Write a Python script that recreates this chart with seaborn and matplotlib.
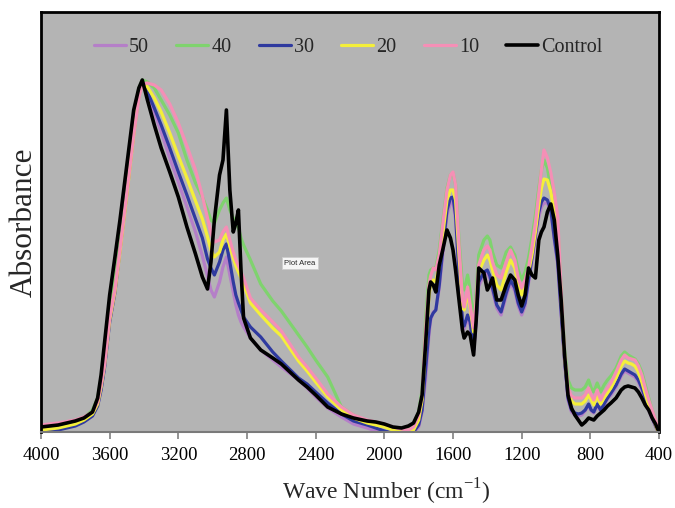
import matplotlib
matplotlib.use("Agg")
import matplotlib.pyplot as plt
import seaborn as sns
import pandas as pd

# Wavenumbers (cm^-1)
wavenumber = [4000, 3900, 3800, 3750, 3700, 3670, 3650, 3630, 3600, 3570,
              3540, 3500, 3460, 3430, 3410, 3380, 3340, 3300, 3250, 3200,
              3150, 3100, 3060, 3030, 3010, 2990, 2960, 2940, 2920, 2900,
              2880, 2865, 2850, 2835, 2820, 2780, 2720, 2650, 2600, 2500,
              2450, 2400, 2330, 2250, 2180, 2100, 2050, 2000, 1950, 1900,
              1860, 1830, 1800, 1780, 1760, 1740, 1730, 1715, 1700, 1680,
              1660, 1635, 1615, 1600, 1585, 1565, 1545, 1535, 1515, 1500,
              1480, 1465, 1450, 1420, 1400, 1385, 1370, 1345, 1320, 1290,
              1265, 1240, 1220, 1200, 1180, 1160, 1140, 1120, 1100, 1085,
              1070, 1050, 1030, 1010, 990, 970, 950, 930, 910, 890,
              870, 850, 830, 810, 795, 780, 760, 740, 720, 700,
              680, 650, 620, 600, 580, 560, 540, 520, 500, 480,
              460, 440, 420, 400]

# Absorbance (arbitrary units) for each sample
abs_50 = [1, 3, 7, 11, 17, 27, 43, 66, 111, 139,
          182, 240, 301, 339, 350, 339, 320, 300, 274, 250,
          225, 200, 176, 156, 142, 135, 150, 165, 175, 157,
          140, 127, 117, 110, 105, 94, 82, 72, 65, 52,
          44, 35, 24, 15, 8, 4, 1, -1, -2, -2,
          -2, -1, 5, 20, 52, 97, 112, 120, 122, 144,
          177, 217, 229, 230, 212, 154, 109, 103, 114, 107,
          80, 109, 146, 157, 159, 153, 141, 124, 117, 136,
          149, 141, 126, 117, 126, 149, 170, 192, 215, 225,
          229, 229, 220, 192, 167, 117, 70, 32, 20, 17,
          16, 17, 21, 27, 21, 19, 27, 21, 27, 33,
          37, 45, 56, 61, 59, 57, 55, 50, 42, 32,
          22, 13, 5, -2]

abs_40 = [4, 6, 10, 14, 22, 34, 54, 82, 130, 160,
          202, 255, 315, 344, 352, 350, 344, 332, 317, 299,
          272, 249, 235, 222, 212, 209, 222, 229, 234, 222,
          214, 210, 204, 194, 187, 172, 148, 131, 121, 97,
          85, 72, 55, 25, 17, 11, 8, 6, 4, 4,
          4, 7, 20, 42, 112, 157, 162, 164, 164, 182,
          210, 244, 257, 259, 247, 192, 147, 142, 157, 142,
          110, 140, 177, 192, 196, 192, 180, 167, 164, 180,
          185, 177, 162, 152, 160, 174, 194, 217, 244, 262,
          272, 264, 244, 224, 207, 142, 82, 52, 44, 42,
          42, 42, 45, 52, 44, 40, 49, 40, 47, 52,
          56, 64, 76, 80, 77, 75, 73, 68, 60, 47,
          34, 22, 12, 0]

abs_30 = [0, 2, 6, 10, 16, 26, 42, 64, 110, 139,
          182, 239, 299, 337, 350, 340, 324, 307, 284, 260,
          237, 213, 194, 173, 164, 157, 170, 182, 188, 170,
          150, 137, 129, 122, 115, 105, 95, 80, 71, 54,
          48, 40, 29, 18, 11, 7, 4, 1, -1, -2,
          -2, 0, 7, 22, 62, 102, 114, 119, 122, 147,
          182, 222, 234, 235, 217, 157, 112, 106, 117, 110,
          82, 112, 150, 160, 162, 156, 144, 127, 120, 139,
          152, 144, 129, 120, 129, 152, 174, 197, 220, 230,
          234, 232, 222, 194, 170, 120, 72, 34, 22, 19,
          18, 19, 22, 28, 22, 20, 28, 22, 28, 34,
          39, 47, 58, 63, 61, 59, 57, 52, 44, 34,
          24, 15, 6, -1]

abs_20 = [2, 4, 8, 12, 18, 28, 45, 67, 112, 140,
          180, 237, 297, 337, 349, 345, 334, 320, 299, 276,
          254, 231, 213, 195, 182, 175, 180, 192, 198, 186,
          174, 166, 160, 154, 148, 129, 117, 104, 96, 71,
          61, 50, 35, 22, 14, 9, 7, 5, 2, 0,
          0, 2, 12, 32, 87, 136, 148, 152, 150, 167,
          197, 232, 242, 242, 232, 177, 127, 122, 139, 124,
          100, 127, 160, 172, 177, 172, 162, 147, 142, 160,
          172, 164, 147, 137, 145, 160, 177, 200, 227, 244,
          253, 252, 240, 220, 197, 134, 75, 42, 31, 28,
          28, 28, 31, 37, 32, 27, 36, 28, 34, 39,
          44, 54, 66, 71, 69, 68, 66, 60, 50, 38,
          27, 17, 7, -2]

abs_10 = [7, 9, 12, 15, 20, 30, 47, 67, 114, 142,
          182, 239, 297, 334, 348, 349, 347, 342, 328, 309,
          286, 262, 236, 214, 199, 190, 192, 200, 205, 192,
          180, 172, 166, 160, 154, 134, 122, 110, 101, 75,
          65, 54, 38, 25, 17, 12, 10, 8, 5, 3,
          2, 5, 17, 37, 102, 147, 156, 164, 162, 177,
          207, 242, 257, 260, 247, 187, 132, 125, 145, 127,
          104, 132, 167, 182, 186, 182, 170, 157, 154, 170,
          182, 172, 154, 144, 152, 164, 185, 209, 239, 262,
          282, 274, 259, 239, 215, 142, 77, 44, 36, 34,
          34, 34, 37, 44, 37, 32, 42, 32, 39, 44,
          49, 60, 72, 77, 74, 73, 72, 66, 57, 44,
          32, 22, 12, 0]

abs_control = [5, 7, 11, 14, 20, 34, 57, 89, 137, 174,
               212, 267, 322, 344, 352, 332, 307, 284, 260, 235,
               205, 178, 155, 143, 170, 212, 257, 272, 322, 242,
               200, 209, 222, 162, 114, 94, 82, 74, 68, 52,
               45, 37, 25, 18, 14, 11, 10, 8, 5, 4,
               6, 9, 20, 37, 87, 142, 150, 147, 140, 167,
               182, 202, 194, 182, 162, 132, 102, 94, 100, 97,
               77, 112, 164, 159, 142, 147, 154, 132, 132, 147,
               157, 152, 137, 126, 137, 164, 157, 154, 192, 200,
               205, 220, 228, 212, 177, 132, 77, 37, 24, 17,
               12, 7, 10, 14, 13, 12, 16, 19, 22, 26,
               29, 34, 42, 45, 46, 45, 44, 40, 34, 27,
               22, 14, 8, 0]

series_names = ["50", "40", "30", "20", "10", "Control"]
series_values = [abs_50, abs_40, abs_30, abs_20, abs_10, abs_control]
series_colors = ["#b57fc8", "#7fd36e", "#2f3a9f", "#f4ef3a", "#f58fb6", "#000000"]
x_ticks = [4000, 3600, 3200, 2800, 2400, 2000, 1600, 1200, 800, 400]

rows = []
for name, vals in zip(series_names, series_values):
    for w, a in zip(wavenumber, vals):
        rows.append({"wavenumber": w, "absorbance": a, "sample": name})
df = pd.DataFrame(rows)

sns.set_theme(style="white")
plt.rcParams["font.family"] = ["Liberation Serif", "DejaVu Serif"]
plt.rcParams["mathtext.fontset"] = "custom"
plt.rcParams["mathtext.rm"] = "Liberation Serif"

fig = plt.figure(figsize=(6.75, 5.08), dpi=100)
ax = fig.add_axes([41 / 675, 76 / 508, 618 / 675, 420 / 508])
ax.set_facecolor("#b4b4b4")

sns.lineplot(data=df, x="wavenumber", y="absorbance", hue="sample",
             hue_order=series_names, palette=dict(zip(series_names, series_colors)),
             linewidth=2.3, estimator=None, ax=ax, legend=False)
ax.lines[-1].set_linewidth(2.6)

ax.set_xlim(4000, 400)
ax.set_ylim(0, 420)
ax.set_xticks(x_ticks)
ax.set_xticklabels([str(t) for t in x_ticks])
ax.set_yticks([])
ax.tick_params(axis="x", direction="out", length=5, width=1.2, color="#808080",
               labelsize=13.5, pad=6, labelcolor="black", bottom=True)

for side in ["left", "top", "right"]:
    ax.spines[side].set_color("black")
    ax.spines[side].set_linewidth(2.0)
ax.spines["bottom"].set_color("#7a7a7a")
ax.spines["bottom"].set_linewidth(1.5)

ax.set_xlabel(r"Wave Number (cm$^{\mathregular{-1}}$)", fontsize=17)
ax.xaxis.set_label_coords(0.558, -0.107)
ax.set_ylabel("Absorbance", fontsize=22.5)
ax.yaxis.set_label_coords(-0.004, 0.5)

handles = []
for name, col in zip(series_names, series_colors):
    h, = ax.plot([], [], color=col, linewidth=2.6 if name == "Control" else 2.3)
    handles.append(h)
ax.legend(handles, series_names, ncol=6, frameon=False, loc="center",
          bbox_to_anchor=(0.497, 0.915), handlelength=1.6, handletextpad=0.15,
          columnspacing=1.35, prop={"family": "Liberation Serif", "size": 14.5})

ax.text(0.419, 0.402, "Plot Area", transform=ax.transAxes, fontsize=5.5,
        family="Liberation Sans", ha="center", va="center",
        bbox=dict(boxstyle="square,pad=0.3", facecolor="#f5f5f5",
                  edgecolor="#cccccc", linewidth=0.6))

fig.savefig("out.png", dpi=100)
